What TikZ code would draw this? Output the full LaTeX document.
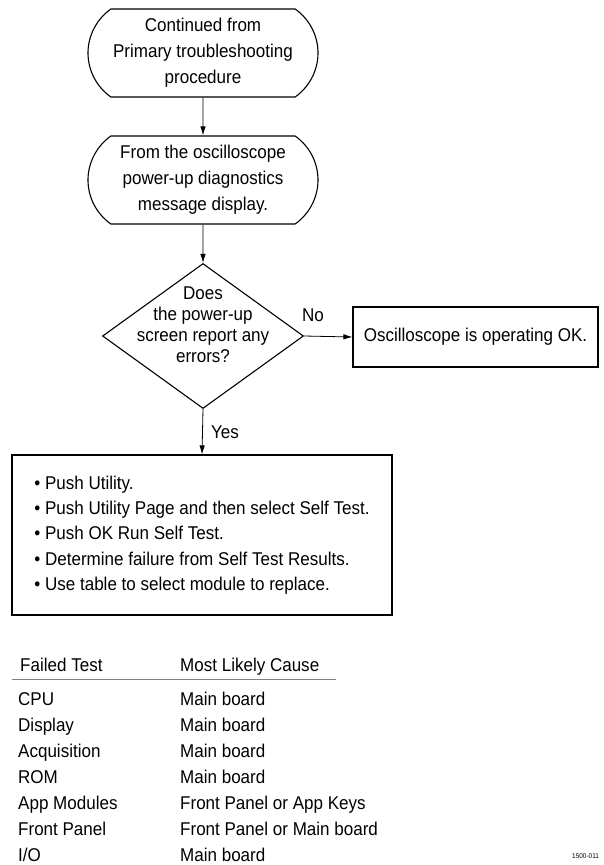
\documentclass[tikz,border=0pt]{standalone}
\usepackage{fontspec}
\setmainfont{Liberation Sans}[FakeStretch=0.92]
\usetikzlibrary{arrows.meta,shapes.misc,shapes.geometric}

\begin{document}
\begin{tikzpicture}[x=1pt,y=1pt,yscale=-1,xscale=1,
  every node/.style={font=\fontsize{18.5}{26}\selectfont},
  terminal/.style={draw,line width=1.1pt,rounded rectangle,rounded rectangle arc length=110,minimum width=230pt,minimum height=88pt,align=center,inner sep=0pt},
  decision/.style={draw,line width=1.1pt,diamond,minimum width=201pt,minimum height=145pt,inner sep=0pt},
  stepbox/.style={draw,line width=1.1pt,rectangle,inner sep=0pt,align=left},
  flow/.style={line width=0.8pt,-{Latex[length=9pt,width=5.5pt]}},
  cell/.style={anchor=base west,inner sep=0pt}
]
\useasboundingbox (0,0) rectangle (603,865);

%Shape: Terminator [start]
\node[terminal] (start) at (203,53) {Continued from\\Primary troubleshooting\\procedure};
%Shape: Terminator [from diagnostics]
\node[terminal] (diag) at (203,180) {From the oscilloscope\\power-up diagnostics\\message display.};
%Shape: Diamond [errors?]
\node[decision] (dec) at (203,336) {};
\node[align=center,inner sep=0pt,font=\fontsize{18.5}{21}\selectfont] (dectext) at (203,325) {Does\\the power-up\\screen report any\\errors?};
%Shape: Rectangle [ok]
\node[stepbox,minimum width=245pt,minimum height=60pt] (ok) at (475.5,337) {Oscilloscope is operating OK.};
%Shape: Rectangle [self test steps]
\node[stepbox,minimum width=380pt,minimum height=160pt,font=\fontsize{18.5}{25.3}\selectfont] (steps) at (202,535) {\textbullet\ Push Utility.\\
\textbullet\ Push Utility Page and then select Self Test.\\
\textbullet\ Push OK Run Self Test.\\
\textbullet\ Determine failure from Self Test Results.\\
\textbullet\ Use table to select module to replace.};

%Straight Lines [connectors]
\draw[flow] (start) -- (diag);
\draw[flow] (diag) -- (dec.north);
\draw[flow] (dec.east) -- (ok.west);
\draw[flow] (dec.south) -- (steps.north);
\node (no) at (313,315) {No};
\node (yes) at (225,432) {Yes};

%Table [failed test / cause]
\node[cell] (hfail) at (20,671) {Failed Test};
\node[cell] (hcause) at (180,671) {Most Likely Cause};
\draw[gray,line width=1pt] (12,679) -- (336,679);
\node[cell] (f1) at (18,705) {CPU};
\node[cell] (c1) at (180,705) {Main board};
\node[cell] (f2) at (18,731) {Display};
\node[cell] (c2) at (180,731) {Main board};
\node[cell] (f3) at (18,757) {Acquisition};
\node[cell] (c3) at (180,757) {Main board};
\node[cell] (f4) at (18,783) {ROM};
\node[cell] (c4) at (180,783) {Main board};
\node[cell] (f5) at (18,809) {App Modules};
\node[cell] (c5) at (180,809) {Front Panel or App Keys};
\node[cell] (f6) at (18,835) {Front Panel};
\node[cell] (c6) at (180,835) {Front Panel or Main board};
\node[cell] (f7) at (18,861) {I/O};
\node[cell] (c7) at (180,861) {Main board};

%Text [figure number]
\node[cell,font=\fontsize{7}{8}\selectfont] (fignum) at (572,858) {1500-011};

\end{tikzpicture}
\end{document}
